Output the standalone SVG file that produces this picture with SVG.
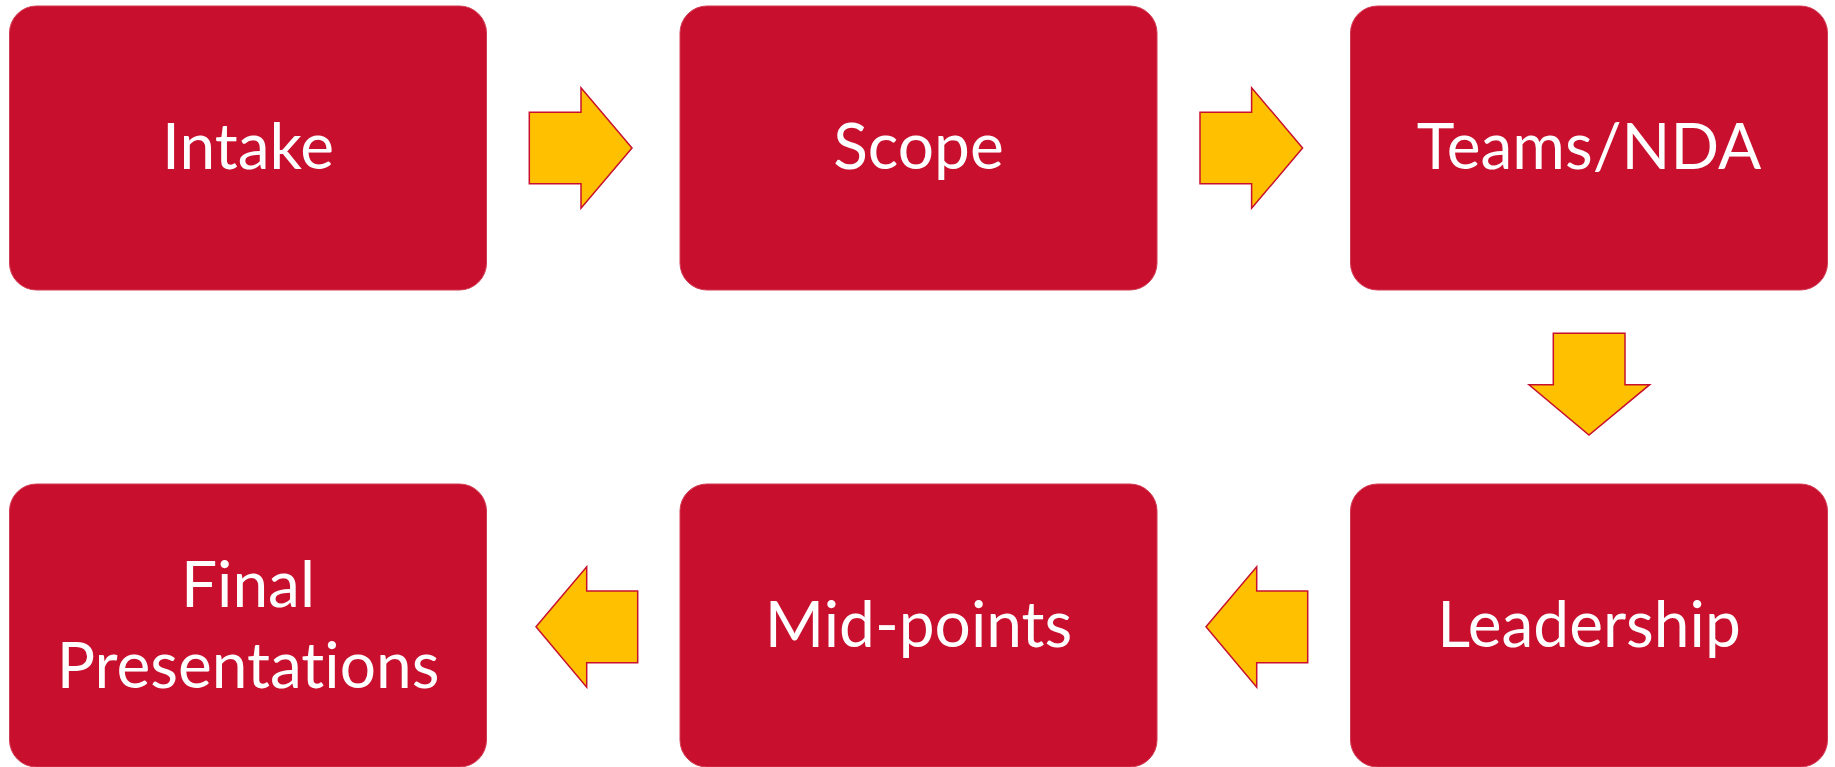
<svg xmlns="http://www.w3.org/2000/svg" width="1835" height="767" viewBox="0 0 1835 767">
  <style>
    .box { fill: #C8102E; stroke: #D23A52; stroke-width: 1; }
    .lbl { fill: #FFFFFF; font-family: Lato, "Open Sans", "Liberation Sans", sans-serif; font-size: 64px; text-anchor: middle; font-variant-ligatures: none; font-feature-settings: "liga" 0; }
    .arrow { fill: #FFC000; stroke: #C8102E; stroke-width: 1.5; stroke-linejoin: miter; }
  </style>
  <rect width="1835" height="767" fill="#FFFFFF"/>
  <g id="intake">
    <rect class="box" x="9.5" y="6" width="477" height="284" rx="27" ry="27"/>
    <text class="lbl" x="248" y="169">Intake</text>
  </g>
  <g id="scope">
    <rect class="box" x="680" y="6" width="477" height="284" rx="27" ry="27"/>
    <text class="lbl" x="918.5" y="169">Scope</text>
  </g>
  <g id="teams-nda">
    <rect class="box" x="1350.5" y="6" width="477" height="284" rx="27" ry="27"/>
    <text class="lbl" x="1589" y="169">Teams/NDA</text>
  </g>
  <g id="leadership">
    <rect class="box" x="1350.5" y="484" width="477" height="283" rx="27" ry="27"/>
    <text class="lbl" x="1589" y="647">Leadership</text>
  </g>
  <g id="mid-points">
    <rect class="box" x="680" y="484" width="477" height="283" rx="27" ry="27"/>
    <text class="lbl" x="918.5" y="647">Mid-points</text>
  </g>
  <g id="final-presentations">
    <rect class="box" x="9.5" y="484" width="477" height="283" rx="27" ry="27"/>
    <text class="lbl" x="248" y="607">Final</text>
    <text class="lbl" x="248" y="688">Presentations</text>
  </g>
  <g id="connectors">
    <polygon class="arrow" points="529.3,112.3 581,112.3 581,87.7 632,148 581,208.3 581,183.7 529.3,183.7"/>
    <polygon class="arrow" points="1200,112.3 1251.6,112.3 1251.6,87.7 1302.6,148 1251.6,208.3 1251.6,183.7 1200,183.7"/>
    <polygon class="arrow" points="1553.3,333.3 1625,333.3 1625,384.7 1649.7,384.7 1589,435 1529,384.7 1553.3,384.7"/>
    <polygon class="arrow" points="1307.7,591 1256.7,591 1256.7,566.7 1206,626.7 1256.7,687.3 1256.7,662.7 1307.7,662.7"/>
    <polygon class="arrow" points="637.7,591 586.7,591 586.7,566.7 536,626.7 586.7,687.3 586.7,662.7 637.7,662.7"/>
  </g>
</svg>
